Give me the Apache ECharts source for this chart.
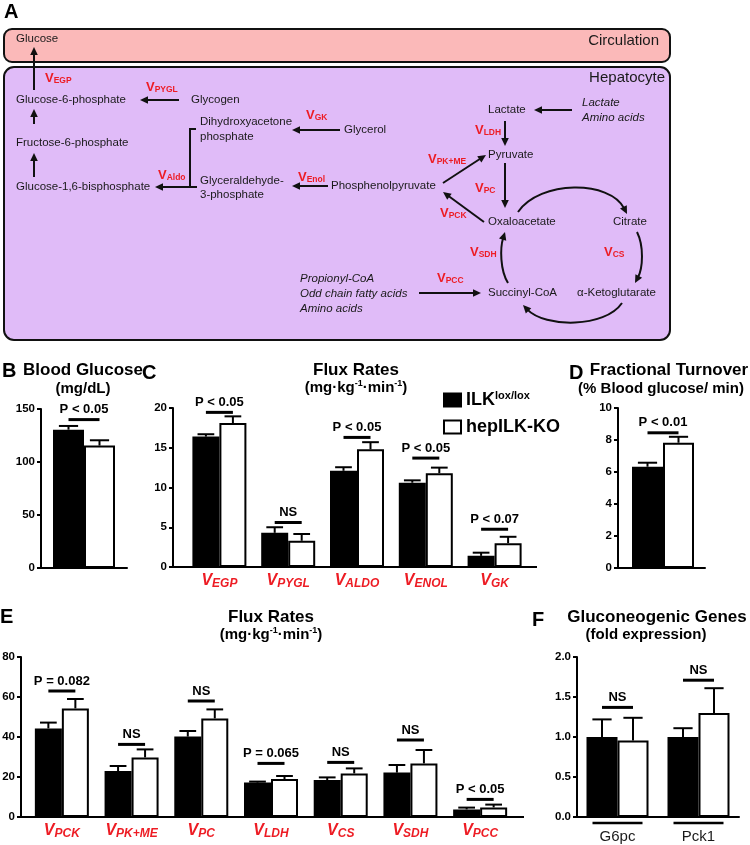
<!DOCTYPE html>
<html><head><meta charset="utf-8">
<script src="https://cdn.jsdelivr.net/npm/echarts@6/dist/echarts.min.js"></script>
<style>html,body{margin:0;padding:0;background:#fff}#c{width:750px;height:845px}</style>
</head><body><div id="c"></div>
<script>
// ---------------- DATA ----------------
const bCats = ['Blood Glucose'];
const bIlk = [130.5];  const bIlkErr = [3.5];
const bKo = [115.5];   const bKoErr = [5];
const bSigY = [140];   const bSigText = ['P < 0.05'];

const cCats = ['EGP', 'PYGL', 'ALDO', 'ENOL', 'GK'];
const cIlk = [16.4, 4.3, 12.1, 10.6, 1.4];
const cIlkErr = [0.3, 0.7, 0.45, 0.3, 0.4];
const cKo = [18.1, 3.3, 14.8, 11.8, 3.0];
const cKoErr = [0.85, 0.85, 0.9, 0.7, 0.8];
const cSigY = [19.45, 5.6, 16.3, 13.7, 4.75];
const cSigText = ['P < 0.05', 'NS', 'P < 0.05', 'P < 0.05', 'P < 0.07'];

const dCats = ['Fractional Turnover'];
const dIlk = [6.33]; const dIlkErr = [0.25];
const dKo = [7.83];  const dKoErr = [0.37];
const dSigY = [8.45]; const dSigText = ['P < 0.01'];

const eCats = ['PCK', 'PK+ME', 'PC', 'LDH', 'CS', 'SDH', 'PCC'];
const eIlk = [44.3, 23, 40.2, 17.2, 18.5, 22.2, 3.8];
const eIlkErr = [2.9, 2.5, 2.8, 0.5, 1.3, 3.8, 0.9];
const eKo = [54.3, 29.8, 49.3, 19, 21.8, 26.8, 4.8];
const eKoErr = [4.7, 4.0, 4.5, 1.5, 2.5, 6.7, 1.4];
const eSigY = [63, 36.3, 58, 26.8, 27.3, 38.5, 8.8];
const eSigText = ['P = 0.082', 'NS', 'NS', 'P = 0.065', 'NS', 'NS', 'P < 0.05'];

const fCats = ['G6pc', 'Pck1'];
const fIlk = [1.0, 1.0];  const fIlkErr = [0.22, 0.11];
const fKo = [0.955, 1.30]; const fKoErr = [0.285, 0.31];
const fSigY = [1.37, 1.71]; const fSigText = ['NS', 'NS'];

const seriesNames = ['ILK', 'hepILK-KO'];

// ---------------- STYLE ----------------
const FF = '"Liberation Sans", Arial, Helvetica, sans-serif';
const RED = '#ed1c24';
const K = '#111';
const TXT = '#1a1a1a';

const chart = echarts.init(document.getElementById('c'), null, {renderer: 'canvas'});

// ---------------- DIAGRAM (panel A) ----------------
const G = [];
function txt(x, y, s, o) {
  o = o || {};
  const size = o.size || 11.5;
  const font = (o.italic ? 'italic ' : '') + (o.bold ? 'bold ' : '') + size + 'px ' + FF;
  const al = o.align || 'left';
  const st = {text: s, x: x, y: y, font: font, fill: o.color || TXT,
    textAlign: al, align: al, textVerticalAlign: 'middle', verticalAlign: 'middle'};
  if (o.rich) st.rich = o.rich;
  return {type: 'text', silent: true, z: 10, style: st};
}
function vlab(x, y, sub) {
  return txt(x, y, '{v|V}{s|' + sub + '}', {rich: {
    v: {fontSize: 13, fontWeight: 'bold', fontFamily: FF, fill: RED, color: RED, lineHeight: 15},
    s: {fontSize: 8.5, fontWeight: 'bold', fontFamily: FF, fill: RED, color: RED, verticalAlign: 'bottom', lineHeight: 10}
  }});
}
function head(x2, y2, c, s) {
  const L = 8, W = 3.8;
  const bx = x2 - L * c, by = y2 - L * s;
  return {type: 'polygon', silent: true, z: 10, shape: {points: [[x2, y2], [bx - W * s, by + W * c], [bx + W * s, by - W * c]]}, style: {fill: K}};
}
function arrow(x1, y1, x2, y2) {
  const a = Math.atan2(y2 - y1, x2 - x1), c = Math.cos(a), s = Math.sin(a);
  G.push({type: 'line', silent: true, z: 10, shape: {x1: x1, y1: y1, x2: x2 - 6 * c, y2: y2 - 6 * s}, style: {stroke: K, lineWidth: 2}});
  G.push(head(x2, y2, c, s));
}
function curve(x1, y1, c1x, c1y, c2x, c2y, x2, y2) {
  const a = Math.atan2(y2 - c2y, x2 - c2x), c = Math.cos(a), s = Math.sin(a);
  G.push({type: 'bezierCurve', silent: true, z: 10, shape: {x1: x1, y1: y1, cpx1: c1x, cpy1: c1y, cpx2: c2x, cpy2: c2y, x2: x2 - 6 * c, y2: y2 - 6 * s}, style: {stroke: K, lineWidth: 2, fill: null}});
  G.push(head(x2, y2, c, s));
}

G.push({type: 'rect', silent: true, z: 5, shape: {x: 4, y: 29, width: 666, height: 33, r: 8}, style: {fill: '#fbb9b9', stroke: K, lineWidth: 2}});
G.push({type: 'rect', silent: true, z: 5, shape: {x: 4, y: 67, width: 666, height: 273, r: 10}, style: {fill: '#e0bbf8', stroke: K, lineWidth: 2}});

G.push(txt(4, 12, 'A', {size: 20, bold: true, color: '#000'}));
G.push(txt(16, 39, 'Glucose'));
G.push(txt(659, 41, 'Circulation', {size: 15, align: 'right'}));
G.push(txt(665, 78, 'Hepatocyte', {size: 15, align: 'right'}));

G.push(txt(16, 100, 'Glucose-6-phosphate'));
G.push(txt(191, 100, 'Glycogen'));
G.push(txt(200, 122, 'Dihydroxyacetone'));
G.push(txt(200, 137, 'phosphate'));
G.push(txt(344, 130, 'Glycerol'));
G.push(txt(16, 143, 'Fructose-6-phosphate'));
G.push(txt(16, 187, 'Glucose-1,6-bisphosphate'));
G.push(txt(200, 181, 'Glyceraldehyde-'));
G.push(txt(200, 195, '3-phosphate'));
G.push(txt(331, 186, 'Phosphenolpyruvate'));
G.push(txt(488, 110, 'Lactate'));
G.push(txt(488, 155, 'Pyruvate'));
G.push(txt(488, 222, 'Oxaloacetate'));
G.push(txt(613, 222, 'Citrate'));
G.push(txt(577, 293, '\u03b1-Ketoglutarate'));
G.push(txt(488, 293, 'Succinyl-CoA'));
G.push(txt(582, 103, 'Lactate', {italic: true}));
G.push(txt(582, 118, 'Amino acids', {italic: true}));
G.push(txt(300, 279, 'Propionyl-CoA', {italic: true}));
G.push(txt(300, 294, 'Odd chain fatty acids', {italic: true}));
G.push(txt(300, 309, 'Amino acids', {italic: true}));

G.push(vlab(45, 78, 'EGP'));
G.push(vlab(146, 87, 'PYGL'));
G.push(vlab(306, 115, 'GK'));
G.push(vlab(158, 175, 'Aldo'));
G.push(vlab(298, 177, 'Enol'));
G.push(vlab(428, 159, 'PK+ME'));
G.push(vlab(475, 130, 'LDH'));
G.push(vlab(475, 188, 'PC'));
G.push(vlab(440, 213, 'PCK'));
G.push(vlab(470, 252, 'SDH'));
G.push(vlab(604, 252, 'CS'));
G.push(vlab(437, 278, 'PCC'));

arrow(34, 90, 34, 47);
arrow(179, 100, 140, 100);
arrow(34, 124, 34, 109);
arrow(340, 130, 292, 130);
arrow(34, 177, 34, 153);
G.push({type: 'polyline', silent: true, z: 10, shape: {points: [[196, 129], [190, 129], [190, 187]]}, style: {stroke: K, lineWidth: 2, fill: null}});
arrow(197, 187, 155, 187);
arrow(328, 186, 292, 186);
arrow(443, 183, 486, 155);
arrow(572, 110, 534, 110);
arrow(505, 121, 505, 146);
arrow(505, 163, 505, 208);
arrow(484, 222, 443, 192);
arrow(419, 293, 481, 293);
curve(518, 212, 540, 180, 610, 180, 627, 214);
curve(637, 232, 644, 246, 643, 268, 635, 283);
curve(622, 303, 605, 328, 545, 328, 523, 305);
curve(508, 283, 500, 270, 500, 248, 505, 232);

// ---------------- PANEL TITLES ----------------
const supRich = {
  m: {fontSize: 15, fontWeight: 'bold', fontFamily: FF, fill: '#000', color: '#000', lineHeight: 17},
  u: {fontSize: 9, fontWeight: 'bold', fontFamily: FF, fill: '#000', color: '#000', verticalAlign: 'top', lineHeight: 10}
};
G.push(txt(2, 371, 'B', {size: 20, bold: true, color: '#000'}));
G.push(txt(83, 370, 'Blood Glucose', {size: 17, bold: true, color: '#000', align: 'center'}));
G.push(txt(83, 389, '(mg/dL)', {size: 15, bold: true, color: '#000', align: 'center'}));
G.push(txt(142, 373, 'C', {size: 20, bold: true, color: '#000'}));
G.push(txt(356, 370, 'Flux Rates', {size: 17, bold: true, color: '#000', align: 'center'}));
G.push(txt(356, 388, '{m|(mg\u00b7kg}{u|-1}{m|\u00b7min}{u|-1}{m|)}', {align: 'center', rich: supRich}));
G.push(txt(569, 373, 'D', {size: 20, bold: true, color: '#000'}));
G.push(txt(669, 370, 'Fractional Turnover', {size: 17, bold: true, color: '#000', align: 'center'}));
G.push(txt(661, 389, '(% Blood glucose/ min)', {size: 15, bold: true, color: '#000', align: 'center'}));
G.push(txt(0, 617, 'E', {size: 20, bold: true, color: '#000'}));
G.push(txt(271, 617, 'Flux Rates', {size: 17, bold: true, color: '#000', align: 'center'}));
G.push(txt(271, 635, '{m|(mg\u00b7kg}{u|-1}{m|\u00b7min}{u|-1}{m|)}', {align: 'center', rich: supRich}));
G.push(txt(532, 620, 'F', {size: 20, bold: true, color: '#000'}));
G.push(txt(657, 617, 'Gluconeogenic Genes', {size: 17, bold: true, color: '#000', align: 'center'}));
G.push(txt(646, 635, '(fold expression)', {size: 15, bold: true, color: '#000', align: 'center'}));

// axis baseline extensions (y-axis offset from first band)
function hline(x1, x2, y) {
  G.push({type: 'line', silent: true, z: 10, shape: {x1: x1, y1: y, x2: x2, y2: y}, style: {stroke: '#000', lineWidth: 2}});
}
hline(173, 537, 567);
hline(618, 705, 568);
hline(21, 524, 817);

// ---------------- CHART PANELS ----------------
const grids = [
  {left: 41, top: 409, width: 86, height: 159},
  {left: 185, top: 408, width: 344, height: 159},
  {left: 621, top: 408, width: 84, height: 160},
  {left: 27, top: 657, width: 488, height: 160},
  {left: 577, top: 657, width: 162, height: 160}
];
const vRich = {
  v: {fontSize: 16, fontWeight: 'bold', fontStyle: 'italic', color: RED, fontFamily: FF, lineHeight: 18},
  s: {fontSize: 12, fontWeight: 'bold', fontStyle: 'italic', color: RED, fontFamily: FF, verticalAlign: 'bottom', lineHeight: 13}
};
function xAx(g, cats, mode) {
  const lab = mode === 'v' ? {show: true, interval: 0, hideOverlap: false, margin: 5, formatter: v => '{v|V}{s|' + v + '}', rich: vRich}
    : mode === 'n' ? {show: true, interval: 0, margin: 12, fontSize: 15, fontFamily: FF, color: TXT}
    : {show: false};
  return {type: 'category', gridIndex: g, data: cats, boundaryGap: true,
    axisLine: {show: true, lineStyle: {color: '#000', width: 2}},
    axisTick: {show: false}, axisLabel: lab, splitLine: {show: false}};
}
function yAx(g, max, interval, offset, dec) {
  return {type: 'value', gridIndex: g, min: 0, max: max, interval: interval, offset: offset,
    axisLine: {show: true, lineStyle: {color: '#000', width: 2}},
    axisTick: {show: true, inside: false, length: 4, lineStyle: {color: '#000', width: 2}},
    axisLabel: {show: true, margin: 6, fontSize: 11.5, fontWeight: 'bold', fontFamily: FF, color: '#000',
      formatter: v => dec ? v.toFixed(1) : String(v)},
    splitLine: {show: false}};
}
const xAxis = [xAx(0, bCats, ''), xAx(1, cCats, 'v'), xAx(2, dCats, ''), xAx(3, eCats, 'v'), xAx(4, fCats, 'n')];
const yAxis = [yAx(0, 150, 50, 0), yAx(1, 20, 5, 12), yAx(2, 10, 2, 3), yAx(3, 80, 20, 6), yAx(4, 2, 0.5, 0, true)];

const series = [];
function errSeries(g, vals, errs, side, bw) {
  return {type: 'custom', xAxisIndex: g, yAxisIndex: g, silent: true, clip: false, z: 4,
    data: vals.map((v, i) => [i, v, errs[i]]),
    renderItem: function (params, api) {
      const i = api.value(0), v = api.value(1), e = api.value(2);
      const b = api.coord([i, v]), t = api.coord([i, v + e]);
      const x = b[0] + side * bw / 2, cap = bw * 0.31;
      return {type: 'group', children: [
        {type: 'line', shape: {x1: x, y1: b[1], x2: x, y2: t[1]}, style: {stroke: '#000', lineWidth: 2}},
        {type: 'line', shape: {x1: x - cap, y1: t[1], x2: x + cap, y2: t[1]}, style: {stroke: '#000', lineWidth: 2}}
      ]};
    }};
}
function sigSeries(g, ys, texts, bw) {
  return {type: 'custom', xAxisIndex: g, yAxisIndex: g, silent: true, clip: false, z: 4,
    data: ys.map((y, i) => [i, y]),
    renderItem: function (params, api) {
      const p = api.coord([api.value(0), api.value(1)]);
      const s = texts[params.dataIndex];
      return {type: 'group', children: [
        {type: 'line', shape: {x1: p[0] - bw / 2, y1: p[1], x2: p[0] + bw / 2, y2: p[1]}, style: {stroke: '#000', lineWidth: 3}},
        {type: 'text', style: {text: s, x: p[0], y: p[1] - 10, font: 'bold 13px ' + FF, fill: '#000',
          textAlign: 'center', align: 'center', textVerticalAlign: 'middle', verticalAlign: 'middle'}}
      ]};
    }};
}
function panel(g, ilk, ilkErr, ko, koErr, sigY, sigText, bw) {
  series.push({type: 'bar', name: seriesNames[0], xAxisIndex: g, yAxisIndex: g, data: ilk, barWidth: bw, barGap: '0%',
    itemStyle: {color: '#000', borderColor: '#000', borderWidth: 2}, z: 3});
  series.push({type: 'bar', name: seriesNames[1], xAxisIndex: g, yAxisIndex: g, data: ko, barWidth: bw, barGap: '0%',
    itemStyle: {color: '#fff', borderColor: '#000', borderWidth: 2}, z: 3});
  series.push(errSeries(g, ilk, ilkErr, -1, bw));
  series.push(errSeries(g, ko, koErr, 1, bw));
  series.push(sigSeries(g, sigY, sigText, bw));
}
panel(0, bIlk, bIlkErr, bKo, bKoErr, bSigY, bSigText, 31);
panel(1, cIlk, cIlkErr, cKo, cKoErr, cSigY, cSigText, 27);
panel(2, dIlk, dIlkErr, dKo, dKoErr, dSigY, dSigText, 31);
panel(3, eIlk, eIlkErr, eKo, eKoErr, eSigY, eSigText, 27);
panel(4, fIlk, fIlkErr, fKo, fKoErr, fSigY, fSigText, 31);
// group underline bars below F axis
series.push({type: 'custom', xAxisIndex: 4, yAxisIndex: 4, silent: true, clip: false, z: 4,
  data: fCats.map((c, i) => [i, 0]),
  renderItem: function (params, api) {
    const p = api.coord([api.value(0), 0]);
    return {type: 'line', shape: {x1: p[0] - 25, y1: p[1] + 6, x2: p[0] + 25, y2: p[1] + 6}, style: {stroke: '#000', lineWidth: 2.5}};
  }});

chart.setOption({
  animation: false,
  backgroundColor: '#fff',
  grid: grids.map(g => Object.assign({containLabel: false, outerBoundsMode: 'none'}, g)),
  xAxis: xAxis,
  yAxis: yAxis,
  legend: {
    data: seriesNames, left: 443, top: 390, orient: 'vertical', itemWidth: 17, itemHeight: 13, itemGap: 9,
    icon: 'rect', selectedMode: false, padding: 0,
    formatter: n => n === 'ILK' ? '{a|ILK}{s|lox/lox}' : '{a|hepILK-KO}',
    textStyle: {rich: {
      a: {fontSize: 18, fontWeight: 'bold', fontFamily: FF, color: '#000', lineHeight: 20},
      s: {fontSize: 11, fontWeight: 'bold', fontFamily: FF, color: '#000', verticalAlign: 'top', lineHeight: 11}
    }}
  },
  graphic: {elements: G},
  series: series
});
</script>
</body></html>
